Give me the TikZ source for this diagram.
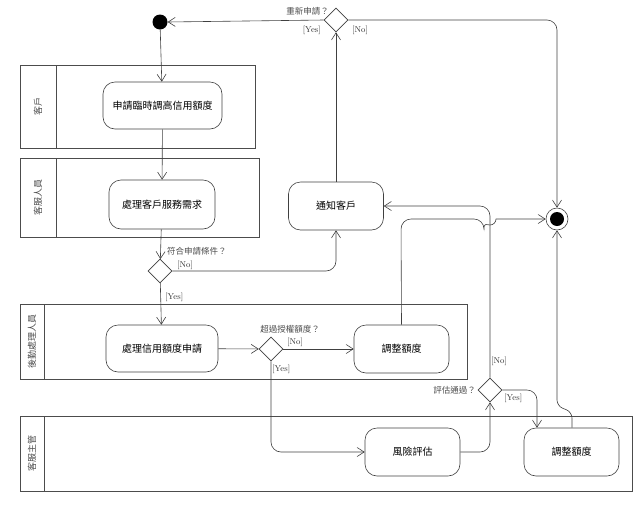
\documentclass[tikz,border=0pt]{standalone}
\usepackage{fontspec}
\newfontfamily\cjk{Noto Sans CJK TC}
\usetikzlibrary{shapes.geometric,arrows.meta}
\begin{document}
\begin{tikzpicture}[x=1pt,y=-1pt,
  line/.style={draw=black!75,line width=0.6pt},
  arr/.style={line,-{Straight Barb[length=7pt,width=9pt]},rounded corners=10pt},
  act/.style={line,rounded corners=12pt,minimum width=95pt,minimum height=48pt,font=\cjk\fontsize{10}{12}\selectfont,inner sep=0pt},
  lane/.style={draw=black!70,line width=0.6pt},
  lanelbl/.style={rotate=90,font=\cjk\fontsize{9}{11}\selectfont,text=black!70},
  dec/.style={line,diamond,minimum width=24pt,minimum height=24pt,inner sep=0pt,fill=white},
  lbl/.style={font=\cjk\fontsize{8.5}{10}\selectfont,text=black!70,inner sep=1pt},
  grd/.style={font=\fontsize{8.5}{10}\selectfont,text=black!80,inner sep=1pt}]
\useasboundingbox (0,0) rectangle (640,504);
% lanes
\draw[lane] (20,65) rectangle (255,148); \draw[lane] (56,65) -- (56,148);
\node[lanelbl] (l1) at (38,106) {客戶};
\draw[lane] (20,158) rectangle (259,237); \draw[lane] (56,158) -- (56,237);
\node[lanelbl] (l2) at (38,197) {客服人員};
\draw[lane] (20,304) rectangle (467,379); \draw[lane] (44,304) -- (44,379);
\node[lanelbl] (l3) at (32,341) {後勤處理人員};
\draw[lane] (20,416) rectangle (632,491); \draw[lane] (44,416) -- (44,491);
\node[lanelbl] (l4) at (32,453) {客服主管};
% nodes
\node[circle,fill=black,minimum size=15pt,inner sep=0pt] (start) at (160,22) {};
\node[act,minimum width=119pt,minimum height=47pt] (a1) at (162.5,105.5) {申請臨時調高信用額度};
\node[act,minimum width=106pt,minimum height=49pt] (a2) at (162,204.5) {處理客戶服務需求};
\node[dec] (d1) at (160,271) {};
\node[act,minimum width=112pt,minimum height=47pt] (a3) at (162,348.5) {處理信用額度申請};
\node[dec] (d2) at (271,349) {};
\node[act] (a4) at (401.5,349) {調整額度};
\node[act] (a5) at (412.5,452) {風險評估};
\node[act] (a6) at (571.5,452) {調整額度};
\node[dec] (d3) at (490,390) {};
\node[act] (nt) at (336,206) {通知客戶};
\node[dec] (d0) at (336,20) {};
\node[circle,draw=black!75,line width=0.6pt,minimum size=22pt,inner sep=0pt] (end) at (557,219) {};
\node[circle,fill=black,minimum size=14pt,inner sep=0pt] (endin) at (557,219) {};
% labels
\node[lbl,anchor=south west] (t1) at (166,256) {符合申請條件？};
\node[grd,anchor=west] (g1) at (176,265) {[No]};
\node[grd,anchor=west] (g2) at (164,297) {[Yes]};
\node[lbl,anchor=south] (t2) at (290,334) {超過授權額度？};
\node[grd,anchor=west] (g3) at (286,342) {[No]};
\node[grd,anchor=west] (g4) at (271,369) {[Yes]};
\node[lbl,anchor=east] (t3) at (477,390) {評估通過？};
\node[grd,anchor=west] (g5) at (490,361) {[No]};
\node[grd,anchor=west] (g6) at (503,398) {[Yes]};
\node[lbl,anchor=east] (t4) at (330,11) {重新申請？};
\node[grd,anchor=east] (g7) at (322,30) {[Yes]};
\node[grd,anchor=west] (g8) at (351,30) {[No]};
% connectors
\draw[arr] (start) -- (a1);
\draw[arr] (a1) -- (a2);
\draw[arr] (a2) -- (d1);
\draw[arr] (d1) -- (a3);
\draw[arr] (d1.east) -- (336,271) -- (nt.south);
\draw[arr] (a3) -- (d2);
\draw[arr] (d2.east) -- (a4.west);
\draw[arr] (d2.south) -- (271,452) -- (a5.west);
\draw[arr] (a5.east) -- (490,452) -- (d3.south);
\draw[arr] (d3.north) -- (490,206) -- (nt.east);
\draw[arr] (d3.east) -- (537,390) -- (a6.north -| 537,0);
\draw[arr,rounded corners=0pt] (a4.north) [rounded corners=10pt] -- (401,219) -- (484,219) [rounded corners=0pt] arc (180:0:6) -- (end.west);
\draw[arr,rounded corners=6pt] (a6.north -| 572,0) -- (572,412) -- (557,406) -- (end.south);
\draw[arr] (nt.north) -- (d0.south);
\draw[arr] (d0.west) -- (start.east);
\draw[arr] (d0.east) -- (557,20) -- (end.north);
\end{tikzpicture}
\end{document}
